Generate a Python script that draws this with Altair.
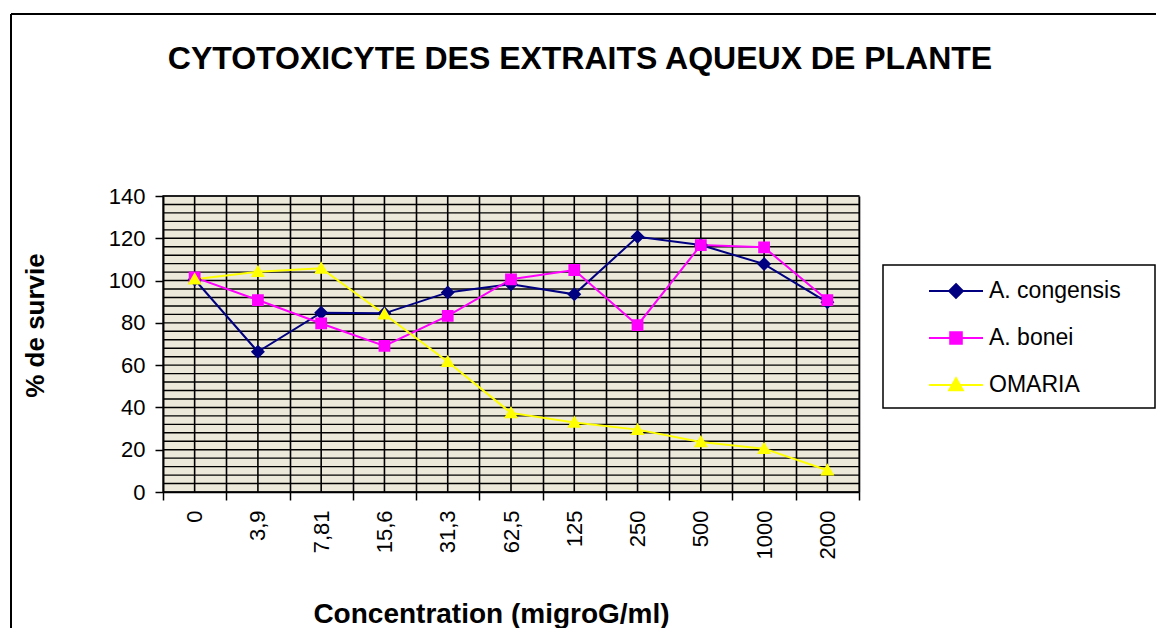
import altair as alt
import pandas as pd

# ---------------- data ----------------
categories = ["0", "3,9", "7,81", "15,6", "31,3", "62,5", "125", "250", "500", "1000", "2000"]
congensis = [100.5, 66.3, 84.8, 84.5, 94.4, 98.3, 93.5, 120.7, 116.8, 107.8, 89.7]
bonei = [101.5, 90.8, 79.7, 69.1, 83.3, 100.6, 105.0, 78.9, 116.8, 115.7, 90.8]
omaria = [100.6, 104.2, 105.8, 84.1, 61.6, 37.4, 32.9, 29.5, 23.7, 20.5, 10.3]

series_names = ["A. congensis", "A. bonei", "OMARIA"]
series_values = [congensis, bonei, omaria]
series_colors = ["#000080", "#FF00FF", "#FFFF00"]
# marker shapes (custom symbol paths); the horizontal segment is only visible where
# a stroke is applied, i.e. in the legend
legend_paths = [
    "M-1.93,0L1.93,0M0,-0.5L0.5,0L0,0.5L-0.5,0Z",
    "M-1.93,0L1.93,0M-0.42,-0.42L0.42,-0.42L0.42,0.42L-0.42,0.42Z",
    "M-1.93,0L1.93,0M0,-0.5L0.5,0.38L-0.5,0.38Z",
]
y_ticks = [0, 20, 40, 60, 80, 100, 120, 140]
y_minor = [0, 4, 8, 12, 16, 20, 24, 28, 32, 36, 40, 44, 48, 52, 56, 60, 64, 68, 72,
           76, 80, 84, 88, 92, 96, 100, 104, 108, 112, 116, 120, 124, 128, 132, 136, 140]

title_text = "CYTOTOXICYTE DES EXTRAITS AQUEUX DE PLANTE"
x_title = "Concentration (migroG/ml)"
y_title = "% de survie"

FONT = "Liberation Sans"

rows = []
for name, vals in zip(series_names, series_values):
    for c, v in zip(categories, vals):
        rows.append({"series": name, "conc": c, "value": v})
df = pd.DataFrame(rows)
cat_df = pd.DataFrame({"conc": categories})
grid_df = pd.DataFrame({"g": y_minor})
one = pd.DataFrame({"t": [title_text]})

x_axis = alt.Axis(
    title=x_title, labelAngle=270, labelAlign="right", labelBaseline="middle",
    tickBand="extent", grid=True, gridColor="black", gridWidth=1.6, gridOpacity=1,
    domainColor="black", domainWidth=1.5, tickColor="black", tickSize=8, tickWidth=1.5,
    labelFont=FONT, labelFontSize=22, labelColor="black", labelPadding=10,
    labelOverlap=False, labelFlush=False,
    titleFont=FONT, titleFontSize=28, titleFontWeight="bold", titleColor="black",
    titleX=328, titleY=130, titleBaseline="alphabetic", titleAlign="center",
)
x_scale = alt.Scale(type="band", domain=categories, paddingInner=0, paddingOuter=0)
y_scale = alt.Scale(domain=[0, 140], nice=False, zero=True)
y_axis = alt.Axis(
    title=y_title, values=y_ticks, grid=False, tickSize=8, tickWidth=1.5, tickColor="black",
    domainColor="black", domainWidth=1.5,
    labelFont=FONT, labelFontSize=22, labelColor="black", labelPadding=10,
    titleFont=FONT, titleFontSize=26, titleFontWeight="bold", titleColor="black",
    titleAngle=270, titleX=-128, titleY=129, titleBaseline="middle", titleAlign="center",
)

def X(field="conc:N"):
    return alt.X(field, sort=categories, scale=x_scale, axis=x_axis)

def Y(field):
    return alt.Y(field, scale=y_scale, axis=y_axis)

leg_common = dict(
    title=None, orient="none", legendX=778, legendY=80, padding=0, rowPadding=20,
    symbolSize=784, symbolStrokeWidth=1.8, labelFontSize=23, labelFont=FONT,
    labelOffset=18, labelColor="black", labelLimit=400,
)

hgrid = alt.Chart(grid_df).mark_rule(color="black", strokeWidth=1.4).encode(y=Y("g:Q"))
vgrid = alt.Chart(cat_df).mark_rule(color="black", strokeWidth=1.6).encode(x=X())

lines = alt.Chart(df).mark_line(strokeWidth=2).encode(
    x=X(), y=Y("value:Q"),
    color=alt.Color("series:N", scale=alt.Scale(domain=series_names, range=series_colors),
                    legend=alt.Legend(**leg_common)),
    detail="series:N",
)

points = alt.Chart(df).mark_point(filled=True, opacity=1, strokeWidth=0, size=784).encode(
    x=X(), y=Y("value:Q"),
    fill=alt.Fill("series:N", scale=alt.Scale(domain=series_names, range=series_colors),
                  legend=alt.Legend(**leg_common)),
    shape=alt.Shape("series:N", scale=alt.Scale(domain=series_names, range=legend_paths),
                    legend=alt.Legend(**leg_common)),
)

legend_box = alt.Chart(one).mark_rect(fill="white", stroke="black", strokeWidth=1.5).encode(
    x=alt.value(720), x2=alt.value(992), y=alt.value(69), y2=alt.value(212))
frame_top = alt.Chart(one).mark_rule(color="black", strokeWidth=2).encode(
    x=alt.value(-152), x2=alt.value(1000), y=alt.value(-182))
frame_left = alt.Chart(one).mark_rule(color="black", strokeWidth=2).encode(
    x=alt.value(-152), y=alt.value(-182), y2=alt.value(440))
title = alt.Chart(one).mark_text(font=FONT, fontSize=32, fontWeight="bold", color="black",
                                 align="center", baseline="alphabetic").encode(
    text="t:N", x=alt.value(417), y=alt.value(-127))

chart = alt.layer(
    legend_box, hgrid, vgrid, lines, points, frame_top, frame_left, title,
).properties(
    width=696, height=296,
    autosize=alt.AutoSizeParams(type="none"),
    padding={"left": 155, "top": 188, "right": 297, "bottom": 136},
    background="white",
).configure_view(
    fill="#ECE9DA", stroke="#808080", strokeWidth=2,
)

chart.save("out.html", embed_options={"renderer": "svg", "actions": False})
